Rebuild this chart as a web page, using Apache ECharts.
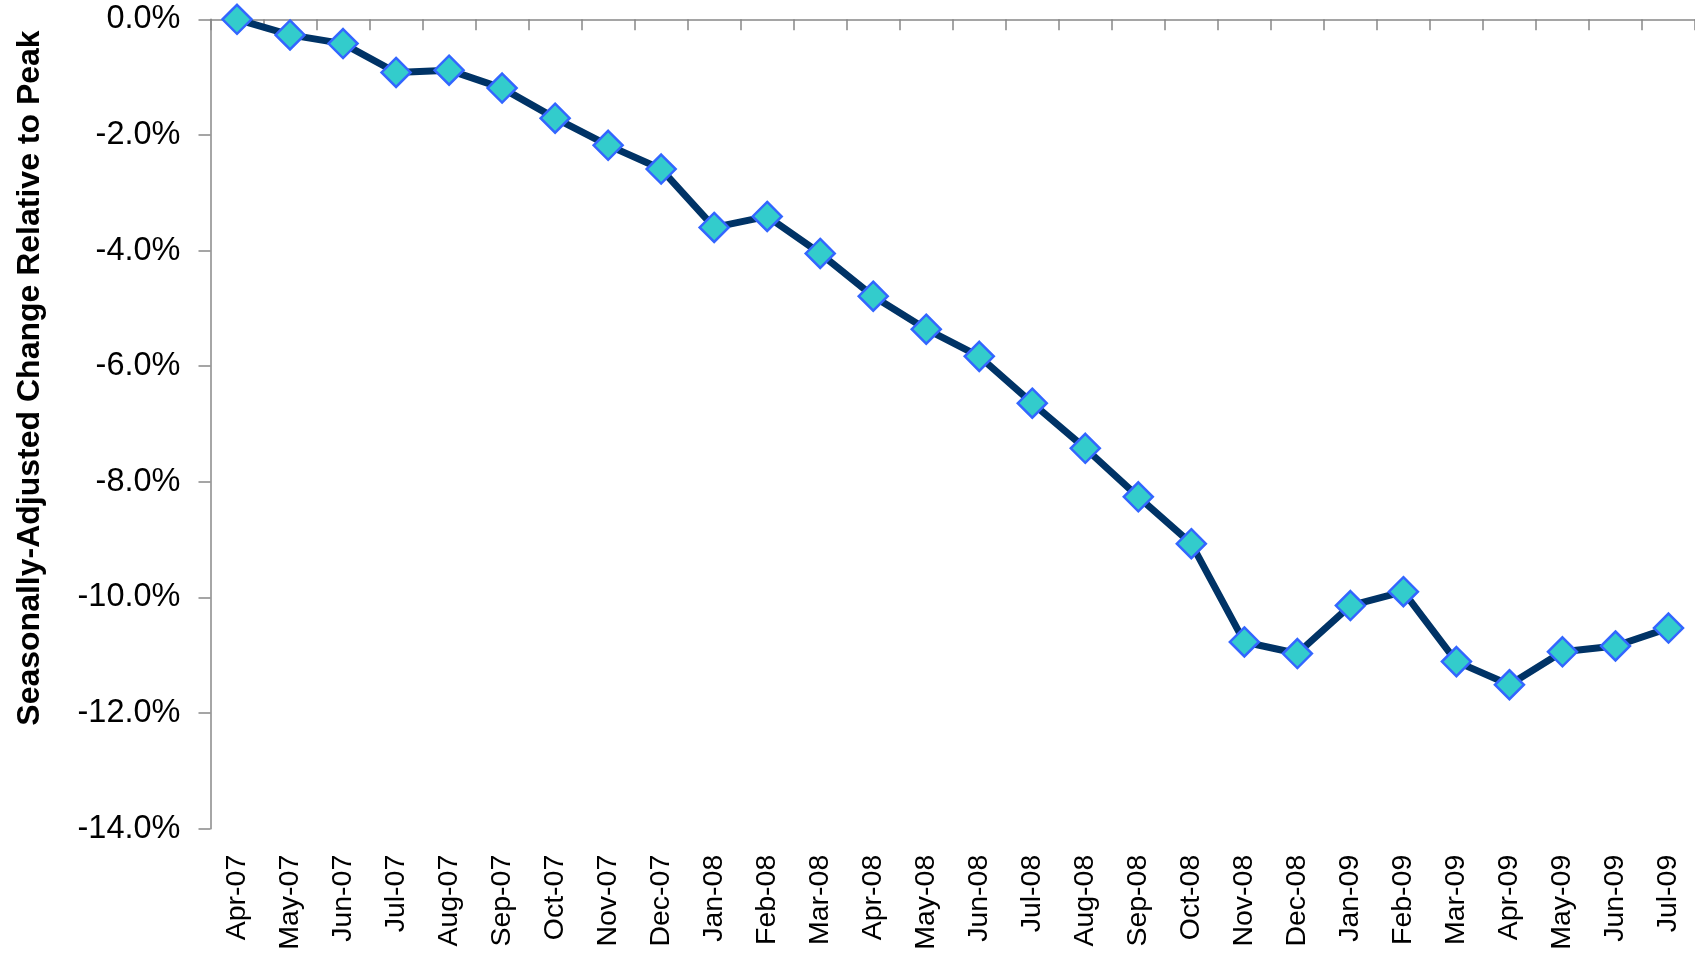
<!DOCTYPE html>
<html>
<head>
<meta charset="utf-8">
<script src="https://cdn.jsdelivr.net/npm/echarts/dist/echarts.min.js"></script>
<style>
html,body{margin:0;padding:0;background:#fff;}
#chart{width:1695px;height:953px;}
</style>
</head>
<body>
<div id="chart"></div>
<script>
var categories = ['Apr-07','May-07','Jun-07','Jul-07','Aug-07','Sep-07','Oct-07','Nov-07','Dec-07',
  'Jan-08','Feb-08','Mar-08','Apr-08','May-08','Jun-08','Jul-08','Aug-08','Sep-08','Oct-08','Nov-08','Dec-08',
  'Jan-09','Feb-09','Mar-09','Apr-09','May-09','Jun-09','Jul-09'];
var changeValues = [0.0,-0.27,-0.42,-0.92,-0.88,-1.19,-1.71,-2.18,-2.59,
  -3.60,-3.41,-4.05,-4.79,-5.36,-5.83,-6.64,-7.42,-8.26,-9.07,-10.77,-10.97,
  -10.14,-9.90,-11.11,-11.51,-10.94,-10.84,-10.53];
var yTicks = {min:-14, max:0, interval:2};
var yTitle = 'Seasonally-Adjusted Change Relative to Peak';

var chart = echarts.init(document.getElementById('chart'));
var font = 'Liberation Sans, Arial, sans-serif';
chart.setOption({
  animation:false,
  backgroundColor:'#ffffff',
  grid:{left:210.5, right:0, top:19.3, bottom:124.3, containLabel:false},
  xAxis:[{
    type:'category', data:categories, position:'bottom', boundaryGap:true,
    axisLine:{show:false}, axisTick:{show:false},
    axisLabel:{rotate:90, margin:26, fontSize:28.5, color:'#000', fontFamily:font, interval:0}
  },{
    type:'category', data:categories, position:'top', boundaryGap:true,
    axisLine:{show:true, lineStyle:{color:'#888888', width:1.5}},
    axisTick:{show:true, inside:true, length:11, interval:0, lineStyle:{color:'#888888', width:1.5}},
    axisLabel:{show:false}
  }],
  yAxis:{
    type:'value', min:yTicks.min, max:yTicks.max, interval:yTicks.interval,
    axisLine:{show:true, lineStyle:{color:'#888888', width:1.5}},
    axisTick:{show:true, length:12, lineStyle:{color:'#888888', width:1.5}},
    splitLine:{show:false},
    axisLabel:{margin:30, fontSize:32.5, color:'#000', fontFamily:font,
      formatter:function(v){return v.toFixed(1)+'%';}}
  },
  graphic:[{
    type:'text', x:30, y:378, rotation:Math.PI/2,
    style:{text:yTitle, font:'bold 32px '+font, fill:'#000', textAlign:'center', textVerticalAlign:'middle'}
  }],
  series:[{
    type:'line', data:changeValues, xAxisIndex:0, clip:false,
    lineStyle:{color:'#003366', width:7},
    symbol:'diamond', symbolSize:29,
    itemStyle:{color:'#33CCCC', borderColor:'#3366FF', borderWidth:2.5}
  }]
});
</script>
</body>
</html>
